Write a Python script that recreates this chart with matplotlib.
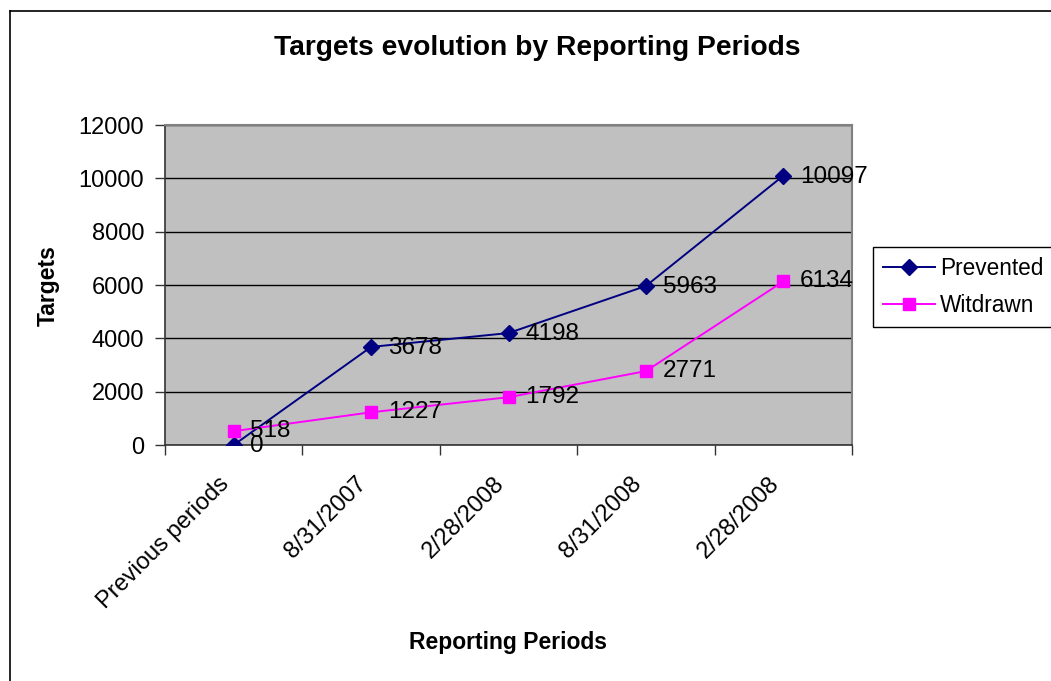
import matplotlib
matplotlib.use("Agg")
import matplotlib.pyplot as plt
from matplotlib.lines import Line2D

plt.rcParams['font.family'] = ['Liberation Sans', 'DejaVu Sans']

categories = ["Previous periods", "8/31/2007", "2/28/2008", "8/31/2008", "2/28/2008"]
prevented = [0, 3678, 4198, 5963, 10097]
withdrawn = [518, 1227, 1792, 2771, 6134]
series_names = ["Prevented", "Witdrawn"]
yticks = [0, 2000, 4000, 6000, 8000, 10000, 12000]

W, H = 1051, 681
fig = plt.figure(figsize=(W / 100, H / 100), dpi=100)

# figure border (only left & top visible)
fig.add_artist(Line2D([10 / W, 10 / W], [0, 1 - 11 / H], transform=fig.transFigure, color='black', lw=1.2))
fig.add_artist(Line2D([10 / W, 1], [1 - 11 / H, 1 - 11 / H], transform=fig.transFigure, color='black', lw=1.2))

left, right, top, bottom = 165, 852, 125, 445
ax = fig.add_axes([left / W, 1 - bottom / H, (right - left) / W, (bottom - top) / H])
ax.set_facecolor('#c0c0c0')

x = list(range(len(categories)))
ax.plot(x, prevented, color='#000080', lw=1.4, marker='D', markersize=8, label=series_names[0], zorder=3)
ax.plot(x, withdrawn, color='#ff00ff', lw=1.4, marker='s', markersize=8, label=series_names[1], zorder=3)

for xi, v in zip(x, prevented):
    ax.annotate(str(v), (xi, v), xytext=(12, -1), textcoords='offset points', va='center', ha='left', fontsize=17.5, zorder=4)
for xi, v in zip(x, withdrawn):
    ax.annotate(str(v), (xi, v), xytext=(12, 0), textcoords='offset points', va='center', ha='left', fontsize=17.5, zorder=4)

ax.set_xlim(-0.5, len(categories) - 0.5)
ax.set_ylim(0, 12000)
ax.set_yticks(yticks)
ax.set_yticklabels([str(t) for t in yticks], fontsize=17)
ax.yaxis.grid(True, color='black', lw=1)
ax.set_axisbelow(True)

ax.set_xticks(x)
ax.set_xticklabels(categories, rotation=45, ha='right', va='bottom', rotation_mode='anchor', fontsize=17)
ax.tick_params(axis='x', length=0, pad=31)
ax.set_xticks([i - 0.5 for i in range(len(categories) + 1)], minor=True)
ax.tick_params(axis='x', which='minor', length=7, width=1, color='#333333', direction='out')
ax.tick_params(axis='y', length=7, width=1, color='#333333', direction='out', pad=8)

for s in ['top', 'right']:
    ax.spines[s].set_color('#808080')
    ax.spines[s].set_linewidth(1.5)
for s in ['left', 'bottom']:
    ax.spines[s].set_color('#333333')
    ax.spines[s].set_linewidth(1.2)

fig.text(537 / W, 1 - 48 / H, "Targets evolution by Reporting Periods", ha='center', va='center',
         fontsize=20.3, fontweight='bold')
fig.text(48 / W, 1 - 286 / H, "Targets", rotation=90, ha='center', va='center', fontsize=16.5, fontweight='bold')
fig.text(508 / W, 1 - 642 / H, "Reporting Periods", ha='center', va='center', fontsize=16.5, fontweight='bold')

leg = fig.legend(loc='upper left', bbox_to_anchor=(873 / W, 1 - 247 / H), fontsize=16.3, frameon=True,
                 fancybox=False, edgecolor='black', framealpha=1, borderpad=0.45, handlelength=2.3,
                 labelspacing=0.6, handletextpad=0.2, borderaxespad=0)
leg.get_frame().set_linewidth(1)

fig.savefig("out.png", dpi=100)
